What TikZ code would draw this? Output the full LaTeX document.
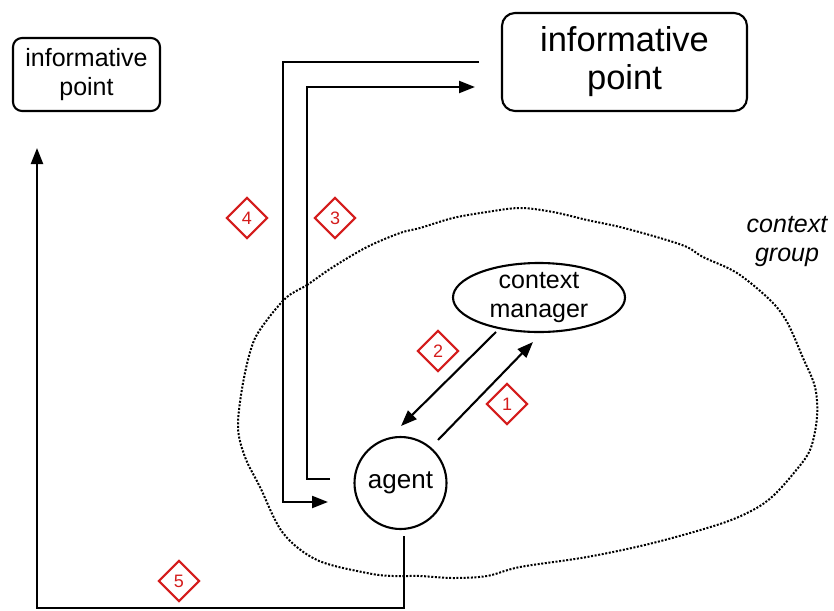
\documentclass[tikz,border=0pt]{standalone}
\usepackage{fontspec}
\setmainfont{Liberation Sans}
\usetikzlibrary{arrows.meta,shapes.geometric}

\definecolor{markred}{RGB}{212,28,28}

\tikzset{
  wire/.style={line width=2.1pt},
  arr/.style={wire,-{Triangle[length=16pt,width=12pt]}},
  infobox/.style={draw,line width=2.1pt,rounded corners=9pt,align=center,inner sep=0pt},
  stepmark/.style={diamond,draw=markred,line width=2.1pt,text=markred,
    minimum width=41pt,minimum height=41pt,inner sep=0pt,
    font=\fontsize{18}{18}\selectfont},
  lbl/.style={font=\fontsize{25}{28.5}\selectfont,align=center},
}

\begin{document}
\begin{tikzpicture}[x=1pt,y=-1pt]
\useasboundingbox (0,0) rectangle (834,610);

% context group boundary
\draw[line width=2pt,dash pattern=on 2pt off 1.6pt]
  plot[smooth cycle,tension=0.55] coordinates {
   (287,297) (307,285) (333,267) (367,247) (400,233) (420,228) (453,218)
   (487,212) (520,208) (553,212) (587,220) (620,227) (660,238) (687,247)
   (703,257) (737,273) (770,300) (787,322) (803,358) (815,387) (817,417)
   (810,450) (793,474) (773,496) (753,510) (720,524) (653,543) (587,557)
   (520,567) (487,576) (453,578) (420,576) (393,576) (367,573) (317,560)
   (283,533) (260,487) (245,457) (238,427) (243,383) (253,343) (267,320)};

\node[lbl,font=\itshape\fontsize{25}{29}\selectfont] (grp) at (787,242) {context\\group};

% nodes
\node[infobox,minimum width=147pt,minimum height=73pt,lbl] (ip1) at (86.5,74.5)
  {informative\\point};
\node[infobox,minimum width=245pt,minimum height=98pt,rounded corners=13pt,
  align=center,font=\fontsize{34.5}{38}\selectfont] (ip2) at (624.5,62)
  {informative\\point};
\node[draw,ellipse,line width=2.1pt,minimum width=172pt,minimum height=69pt,
  inner xsep=-6pt,inner ysep=-10pt,lbl] (cm) at (539,297.5) {context\\manager};
\node[draw,circle,line width=2.1pt,minimum size=92pt,inner sep=0pt,
  font=\fontsize{26}{26}\selectfont] (agent) at (400.5,483) {agent};

% message flows
\draw[arr] ([shift={(37.5,-43)}]agent.center) -- ([shift={(-6,44.5)}]cm.center);
\draw[arr] ([shift={(-43,34.5)}]cm.center) -- ([shift={(0.5,-57)}]agent.center);
\draw[arr] ([shift={(-70.5,-4)}]agent.center) -- ++(-23,0)
  |- ([shift={(-149.5,25)}]ip2.center);
\draw[arr] ([shift={(-145.5,0)}]ip2.center) -- ++(-196,0)
  |- ([shift={(-72.5,19)}]agent.center);
\draw[arr] ([shift={(3.5,53)}]agent.center) -- ++(0,72)
  -| ([shift={(-49.5,73.5)}]ip1.center);

% step numbers
\node[stepmark] (s1) at (507,404) {1};
\node[stepmark] (s2) at (438,351) {2};
\node[stepmark] (s3) at (335,218) {3};
\node[stepmark] (s4) at (247,218) {4};
\node[stepmark] (s5) at (179,581) {5};
\end{tikzpicture}
\end{document}
